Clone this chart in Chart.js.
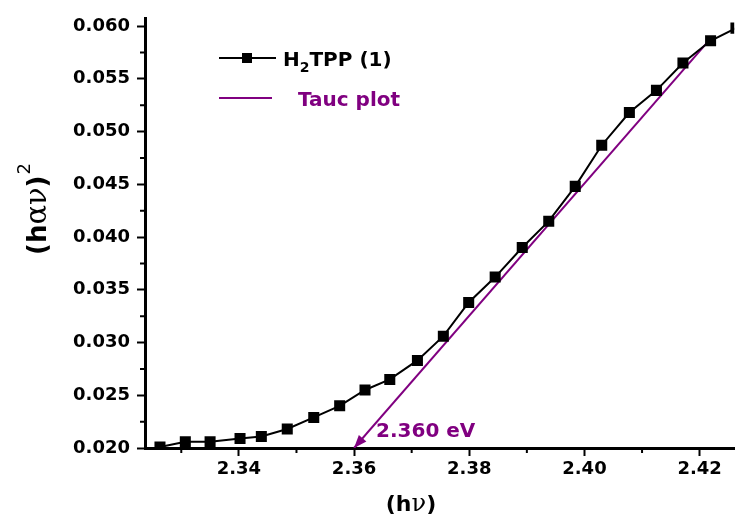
<!DOCTYPE html>
<html>
<head>
<meta charset="utf-8">
<script src="https://cdn.jsdelivr.net/npm/chart.js@4.4.0/dist/chart.umd.min.js"></script>
<style>
  html, body { margin: 0; padding: 0; background: #fff; }
  #wrap { width: 742px; height: 517px; }
</style>
</head>
<body>
<div id="wrap"><canvas id="taucChart" width="742" height="517"></canvas></div>
<script>
// photon energy (eV) and (h a v)^2
const photonEnergy = [2.3263, 2.3307, 2.3350, 2.3402, 2.3439, 2.3484, 2.3530, 2.3575, 2.3619, 2.3662, 2.3710, 2.3755,
                      2.3799, 2.3845, 2.3892, 2.3938, 2.3984, 2.4030, 2.4078, 2.4125, 2.4171, 2.4219, 2.4263];
const absorption = [0.0201, 0.0206, 0.0206, 0.0209, 0.0211, 0.0218, 0.0229, 0.0240, 0.0255, 0.0265, 0.0283, 0.0306,
                    0.0338, 0.0362, 0.0390, 0.0415, 0.0448, 0.0487, 0.0518, 0.0539, 0.0565, 0.0586, 0.0598];

// linear fit (Tauc) running down to the x axis
const taucX = [2.360, 2.4214];
const taucY = [0.0200, 0.0585];
const bandGapLabel = '2.360 eV';

const xTicks = [2.34, 2.36, 2.38, 2.40, 2.42];
const xMinor = [2.33, 2.35, 2.37, 2.39, 2.41];
const yTicks = [0.020, 0.025, 0.030, 0.035, 0.040, 0.045, 0.050, 0.055, 0.060];
const yMinor = [0.0225, 0.0275, 0.0325, 0.0375, 0.0425, 0.0475, 0.0525, 0.0575];

const PURPLE = '#800080';

const extras = {
  id: 'extras',
  afterDraw(chart) {
    const ctx = chart.ctx;
    const xs = chart.scales.x, ys = chart.scales.y;
    const area = chart.chartArea;
    ctx.save();

    // minor ticks, shorter than the majors
    ctx.strokeStyle = '#000';
    ctx.lineWidth = 2;
    ctx.beginPath();
    xMinor.forEach(v => {
      const px = xs.getPixelForValue(v);
      ctx.moveTo(px, area.bottom);
      ctx.lineTo(px, area.bottom + 5);
    });
    yMinor.forEach(v => {
      const py = ys.getPixelForValue(v);
      ctx.moveTo(area.left, py);
      ctx.lineTo(area.left - 5, py);
    });
    ctx.stroke();

    // arrow head at the intercept
    const tipX = xs.getPixelForValue(taucX[0]), tipY = ys.getPixelForValue(taucY[0]);
    const fromX = xs.getPixelForValue(taucX[1]), fromY = ys.getPixelForValue(taucY[1]);
    const ang = Math.atan2(tipY - fromY, tipX - fromX);
    ctx.fillStyle = PURPLE;
    ctx.beginPath();
    ctx.moveTo(tipX, tipY);
    ctx.lineTo(tipX - 13 * Math.cos(ang) + 5 * Math.sin(ang), tipY - 13 * Math.sin(ang) - 5 * Math.cos(ang));
    ctx.lineTo(tipX - 13 * Math.cos(ang) - 5 * Math.sin(ang), tipY - 13 * Math.sin(ang) + 5 * Math.cos(ang));
    ctx.closePath();
    ctx.fill();

    // band gap label
    ctx.font = "bold 20px 'DejaVu Sans'";
    ctx.textBaseline = 'middle';
    ctx.textAlign = 'left';
    ctx.fillText(bandGapLabel, tipX + 22, tipY - 16);

    // legend
    ctx.strokeStyle = '#000';
    ctx.lineWidth = 2;
    ctx.beginPath();
    ctx.moveTo(219, 58); ctx.lineTo(276, 58);
    ctx.stroke();
    ctx.fillStyle = '#000';
    ctx.fillRect(242, 53, 10, 10);
    ctx.textBaseline = 'alphabetic';
    ctx.font = "bold 20px 'DejaVu Sans'";
    ctx.fillText('H', 283, 66);
    let w = ctx.measureText('H').width;
    ctx.font = "bold 14px 'DejaVu Sans'";
    ctx.fillText('2', 283 + w, 72);
    w += ctx.measureText('2').width;
    ctx.font = "bold 20px 'DejaVu Sans'";
    ctx.fillText('TPP (1)', 283 + w, 66);

    ctx.strokeStyle = PURPLE;
    ctx.beginPath();
    ctx.moveTo(219, 98); ctx.lineTo(272, 98);
    ctx.stroke();
    ctx.fillStyle = PURPLE;
    ctx.fillText('Tauc plot', 298, 106);

    // axis titles
    ctx.fillStyle = '#000';
    const parts = (list, x0, y0) => {
      let x = x0;
      list.forEach(([t, f]) => {
        ctx.font = f;
        ctx.fillText(t, x, y0);
        x += ctx.measureText(t).width;
      });
      return x - x0;
    };
    const bold = "bold 22px 'DejaVu Sans'";
    const greek = "24px 'DejaVu Serif'";
    // x title
    const xt = [['(h', bold], ['\u03BD', greek], [')', bold]];
    let tw = 0;
    xt.forEach(([t, f]) => { ctx.font = f; tw += ctx.measureText(t).width; });
    parts(xt, 411 - tw / 2, 511);

    // y title, rotated
    const yBold = "bold 26px 'DejaVu Sans'";
    const yGreek = "29px 'DejaVu Serif'";
    ctx.translate(46, 255);
    ctx.rotate(-Math.PI / 2);
    const yw = parts([['(h', yBold], ['\u03B1\u03BD', yGreek], [')', yBold]], 0, 0);
    ctx.font = "18px 'DejaVu Sans'";
    ctx.fillText('2', yw + 1, -16);

    ctx.restore();
  }
};

new Chart(document.getElementById('taucChart'), {
  type: 'scatter',
  data: {
    datasets: [
      {
        label: 'H2TPP (1)',
        data: photonEnergy.map((x, i) => ({ x: x, y: absorption[i] })),
        showLine: true,
        borderColor: '#000',
        borderWidth: 2,
        backgroundColor: '#000',
        pointStyle: 'rect',
        pointRadius: 7.8,
        pointBorderWidth: 0,
        order: 1
      },
      {
        label: 'Tauc plot',
        data: taucX.map((x, i) => ({ x: x, y: taucY[i] })),
        showLine: true,
        borderColor: PURPLE,
        borderWidth: 2,
        pointRadius: 0,
        order: 2
      }
    ]
  },
  options: {
    responsive: false,
    animation: false,
    layout: { padding: { top: 18, right: -3, left: 0, bottom: 0 } },
    plugins: {
      legend: { display: false },
      tooltip: { enabled: false }
    },
    scales: {
      x: {
        type: 'linear',
        min: 2.3237,
        max: 2.4260,
        afterBuildTicks: s => { s.ticks = xTicks.map(v => ({ value: v })); },
        afterFit: s => { s.height = 69; s.paddingRight = 0; s.paddingLeft = 0; },
        border: { display: true, color: '#000', width: 3 },
        grid: { drawOnChartArea: false, drawTicks: true, tickLength: 8, tickWidth: 2, tickColor: '#000' },
        ticks: {
          color: '#000',
          font: { family: 'DejaVu Sans', size: 18, weight: 'bold' },
          padding: 3,
          maxRotation: 0,
          callback: v => v.toFixed(2)
        }
      },
      y: {
        type: 'linear',
        min: 0.020,
        max: 0.06076,
        afterBuildTicks: s => { s.ticks = yTicks.map(v => ({ value: v })); },
        afterFit: s => { s.width = 145; s.paddingTop = 0; s.paddingBottom = 0; },
        border: { display: true, color: '#000', width: 3 },
        grid: { drawOnChartArea: false, drawTicks: true, tickLength: 8, tickWidth: 2, tickColor: '#000' },
        ticks: {
          color: '#000',
          font: { family: 'DejaVu Sans', size: 18, weight: 'bold' },
          padding: 7,
          callback: v => v.toFixed(3)
        }
      }
    }
  },
  plugins: [extras]
});
</script>
</body>
</html>
